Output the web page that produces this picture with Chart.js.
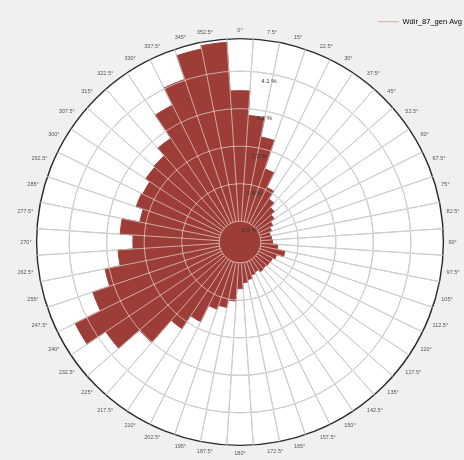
<!DOCTYPE html>
<html>
<head>
<meta charset="utf-8">
<title>Wdir_87_gen Avg</title>
<script src="https://cdn.jsdelivr.net/npm/chart.js@4.4.1/dist/chart.umd.min.js"></script>
<style>
  html, body { margin: 0; padding: 0; background: #f0f0f0; }
  #wrap { width: 464px; height: 460px; }
</style>
</head>
<body>
<div id="wrap"><canvas id="roseChart" width="464" height="460"></canvas></div>
<script>
// Direction sectors, 7.5 degree bins, clockwise from north
const categories = ['0°', '7.5°', '15°', '22.5°', '30°', '37.5°', '45°', '52.5°',
    '60°', '67.5°', '75°', '82.5°', '90°', '97.5°', '105°', '112.5°',
    '120°', '127.5°', '135°', '142.5°', '150°', '157.5°', '165°', '172.5°',
    '180°', '187.5°', '195°', '202.5°', '210°', '217.5°', '225°', '232.5°',
    '240°', '247.5°', '255°', '262.5°', '270°', '277.5°', '285°', '292.5°',
    '300°', '307.5°', '315°', '322.5°', '330°', '337.5°', '345°', '352.5°'];

// Frequency per sector (%)
const wdirAvg = [3.63, 3.04, 2.57, 1.85, 1.46, 1.24, 1.10, 0.99,
    0.88, 0.80, 0.74, 0.76, 0.78, 0.91, 1.10, 0.93,
    0.87, 0.86, 0.84, 0.86, 0.80, 0.84, 0.92, 0.98,
    1.12, 1.42, 1.60, 1.70, 2.13, 2.50, 3.21, 3.87,
    4.41, 3.73, 3.30, 2.93, 2.57, 2.88, 2.45, 2.63,
    2.60, 2.72, 2.75, 2.99, 3.66, 4.12, 4.72, 4.80];

// Radial rings (%)
const tickValues = [0.5, 1.4, 2.3, 3.2, 4.1];
const scaleMax = 4.88;

const seriesName = 'Wdir_87_gen Avg';
const barColor = '#9c3e37';
const baseGrid = '#939393';                    // seen on the white part
const overGrid = 'rgba(255, 255, 255, 0.55)';  // light lines over the bars

Chart.defaults.font.family = '"Liberation Sans", Arial, sans-serif';

const isOuter = (c) => c.tick && c.tick.value === scaleMax;
const ringTicks = (scale) => {
    scale.ticks = [0, ...tickValues, scaleMax].map(v => ({ value: v }));
};

// ring labels, set along the 7.5 deg sector like the original
const ringLabels = {
    id: 'ringLabels',
    afterDraw(chart) {
        const r = chart.scales.r;
        const ctx = chart.ctx;
        ctx.save();
        ctx.font = '6px "Liberation Sans", Arial, sans-serif';
        ctx.fillStyle = '#333333';
        ctx.textAlign = 'left';
        ctx.textBaseline = 'middle';
        tickValues.forEach(v => {
            const p = r.getPointPosition(1, r.getDistanceFromCenterForValue(v), Math.PI / categories.length);
            ctx.fillText(v + ' %', p.x - 1, p.y + 9);
        });
        ctx.restore();
    }
};

const pointLabelOpts = (color) => ({
    display: true,
    centerPointLabels: true,
    padding: 5,
    color: color,
    font: { size: 5.5 }
});

new Chart(document.getElementById('roseChart'), {
    type: 'polarArea',
    data: {
        labels: categories,
        datasets: [{
            label: seriesName,
            data: wdirAvg,
            rAxisID: 'r',
            backgroundColor: barColor,
            borderColor: barColor,   // hides the seams between sectors
            borderWidth: 1
        }]
    },
    options: {
        responsive: false,
        animation: false,
        devicePixelRatio: 1,
        layout: { padding: { top: 16, left: 14, right: 0, bottom: 2 } },
        plugins: {
            tooltip: { enabled: false },
            legend: {
                position: 'top',
                align: 'end',
                maxHeight: 12,
                labels: {
                    usePointStyle: true,
                    pointStyleWidth: 21,
                    padding: 2,
                    color: '#333333',
                    font: { size: 7.5 },
                    generateLabels: () => [{
                        text: seriesName,
                        fillStyle: '#dba8a4',
                        strokeStyle: '#dba8a4',
                        lineWidth: 1,
                        pointStyle: 'line',
                        hidden: false,
                        datasetIndex: 0
                    }]
                }
            }
        },
        scales: {
            r: {
                min: 0,
                max: scaleMax,
                startAngle: -180 / categories.length,
                backgroundColor: '#ffffff',
                afterBuildTicks: ringTicks,
                ticks: { display: false },
                grid: {
                    circular: true,
                    color: (c) => isOuter(c) ? '#2a2a2a' : baseGrid,
                    lineWidth: (c) => isOuter(c) ? 1.4 : 1
                },
                angleLines: { display: true, color: baseGrid, lineWidth: 1 },
                pointLabels: pointLabelOpts('#555555')
            },
            // same geometry again, drawn above the bars
            rOver: {
                type: 'radialLinear',
                min: 0,
                max: scaleMax,
                startAngle: -180 / categories.length,
                afterBuildTicks: ringTicks,
                ticks: { display: false },
                grid: {
                    z: 1,
                    circular: true,
                    color: (c) => isOuter(c) ? 'rgba(0,0,0,0)' : overGrid,
                    lineWidth: 1
                },
                angleLines: {
                    display: true,
                    color: overGrid,
                    lineWidth: 1,
                    // leave the centre disc clear up to the first ring
                    borderDash: (c) => [1000, c.chart.scales.r.getDistanceFromCenterForValue(tickValues[0])],
                    borderDashOffset: 1000
                },
                pointLabels: pointLabelOpts('rgba(0,0,0,0)')
            }
        }
    },
    plugins: [ringLabels]
});
</script>
</body>
</html>
